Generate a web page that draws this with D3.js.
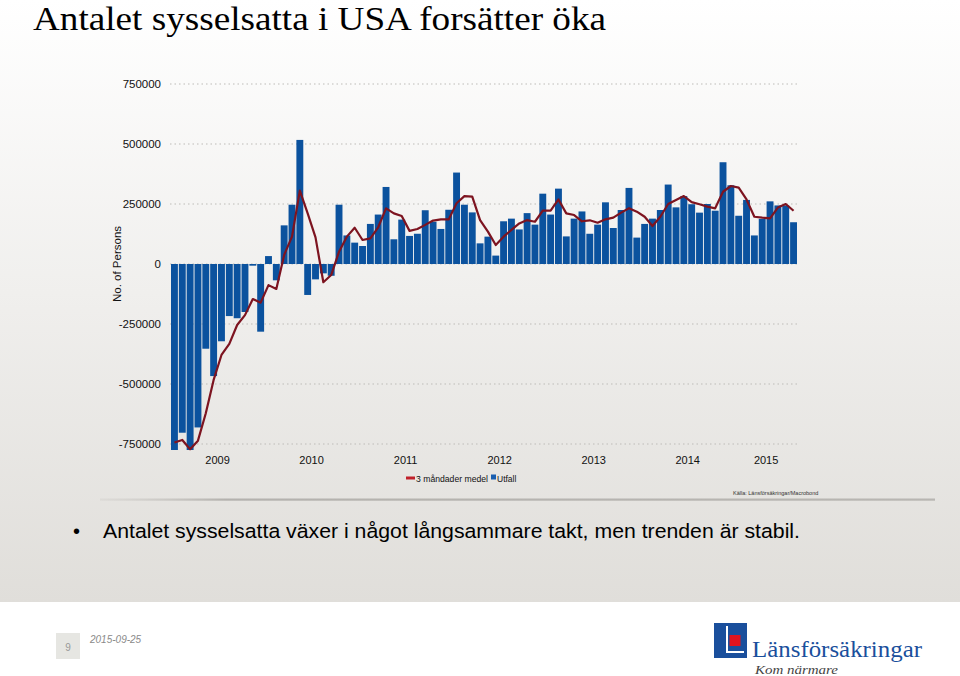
<!DOCTYPE html>
<html>
<head>
<meta charset="utf-8">
<script src="https://cdn.jsdelivr.net/npm/d3@7"></script>
<style>
  html, body { margin: 0; padding: 0; background: #fff; }
  svg { display: block; }
</style>
</head>
<body>
<svg id="chart" width="960" height="676"></svg>
<script>
/* ---- data: monthly change in US nonfarm employment, Jan 2009 – Aug 2015 ---- */
const months = d3.timeMonth.range(new Date(2009, 0, 1), new Date(2015, 8, 1));

const utfall = [
  -775000, -703000, -775000, -681000, -353000, -467000, -322000, -217000, -226000, -200000, -7000, -282000,
  33000, -68000, 161000, 247000, 517000, -129000, -64000, -39000, -49000, 247000, 119000, 89000,
  75000, 167000, 206000, 321000, 103000, 185000, 117000, 126000, 224000, 176000, 146000, 226000,
  381000, 247000, 215000, 86000, 114000, 35000, 178000, 189000, 144000, 212000, 164000, 293000,
  206000, 314000, 115000, 189000, 219000, 126000, 164000, 257000, 150000, 225000, 317000, 110000,
  167000, 189000, 225000, 331000, 236000, 283000, 249000, 214000, 250000, 222000, 424000, 328000,
  201000, 267000, 119000, 188000, 261000, 244000, 244000, 174000
];

const medel3 = [
  -744000, -733000, -772000, -736000, -622000, -483000, -379000, -333000, -254000, -213000, -146000, -161000,
  -88000, -104000, 38000, 114000, 306000, 211000, 111000, -76000, -46000, 51000, 114000, 151000,
  100000, 107000, 153000, 232000, 211000, 200000, 138000, 146000, 163000, 181000, 186000, 186000,
  253000, 283000, 281000, 183000, 135000, 79000, 114000, 142000, 169000, 183000, 176000, 222000,
  222000, 269000, 211000, 204000, 178000, 182000, 172000, 186000, 193000, 214000, 232000, 218000,
  197000, 158000, 197000, 250000, 267000, 283000, 258000, 249000, 239000, 232000, 301000, 325000,
  318000, 269000, 197000, 193000, 190000, 235000, 250000, 222000
];

const years = [2009, 2010, 2011, 2012, 2013, 2014, 2015];
const yTicks = [750000, 500000, 250000, 0, -250000, -500000, -750000];

const BLUE = "#0b529e";
const RED = "#7d1420";
const FONT = "'Liberation Sans', Arial, sans-serif";
const SERIF = "'Liberation Serif', 'Times New Roman', serif";

const svg = d3.select("#chart");

/* ---- background ---- */
const defs = svg.append("defs");
const bg = defs.append("linearGradient").attr("id", "bg").attr("x1", 0).attr("y1", 0).attr("x2", 0).attr("y2", 1);
bg.append("stop").attr("offset", "0%").attr("stop-color", "#ffffff");
bg.append("stop").attr("offset", "100%").attr("stop-color", "#e0deda");
svg.append("rect").attr("x", 0).attr("y", 0).attr("width", 960).attr("height", 602).attr("fill", "url(#bg)");

const sep = defs.append("linearGradient").attr("id", "sep").attr("x1", 0).attr("y1", 0).attr("x2", 1).attr("y2", 0);
sep.append("stop").attr("offset", "0%").attr("stop-color", "#c8c6c2").attr("stop-opacity", 0.3);
sep.append("stop").attr("offset", "15%").attr("stop-color", "#b4b2ae");
sep.append("stop").attr("offset", "100%").attr("stop-color", "#b8b6b2");

/* ---- title ---- */
svg.append("text")
  .attr("x", 33).attr("y", 30)
  .attr("font-family", SERIF).attr("font-size", 33).attr("fill", "#000")
  .attr("textLength", 573).attr("lengthAdjust", "spacingAndGlyphs")
  .text("Antalet sysselsatta i USA forsätter öka");

/* ---- scales ---- */
const x = d3.scaleBand().domain(months).range([171, 797]).paddingInner(0.12).paddingOuter(0.0);
const y = d3.scaleLinear().domain([-750000, 750000]).range([444, 84]);

/* ---- grid + y labels ---- */
const grid = svg.append("g");
grid.selectAll("line").data(yTicks).enter().append("line")
  .attr("x1", 170).attr("x2", 800)
  .attr("y1", d => y(d)).attr("y2", d => y(d))
  .attr("stroke", "#bdbbb8").attr("stroke-width", 1.2)
  .attr("stroke-dasharray", "1.5,3");

svg.append("g").selectAll("text").data(yTicks).enter().append("text")
  .attr("x", 161).attr("y", d => y(d) + 4)
  .attr("text-anchor", "end")
  .attr("font-family", FONT).attr("font-size", 11.5).attr("fill", "#111")
  .text(d => String(d));

svg.append("text")
  .attr("transform", `translate(121,${y(0)}) rotate(-90)`)
  .attr("text-anchor", "middle")
  .attr("font-family", FONT).attr("font-size", 11.5).attr("fill", "#111")
  .text("No. of Persons");

/* ---- bars ---- */
svg.append("g").selectAll("rect").data(utfall).enter().append("rect")
  .attr("x", (d, i) => x(months[i]))
  .attr("width", x.bandwidth())
  .attr("y", d => Math.min(y(d), y(0)))
  .attr("height", d => Math.abs(y(d) - y(0)))
  .attr("fill", BLUE);

/* ---- 3-month average line ---- */
const line = d3.line()
  .x((d, i) => x(months[i]) + x.bandwidth() / 2)
  .y(d => y(d));

svg.append("path").datum(medel3)
  .attr("d", line)
  .attr("fill", "none")
  .attr("stroke", RED)
  .attr("stroke-width", 2.2)
  .attr("stroke-linejoin", "round");

/* ---- x year labels, centred on each year's bars ---- */
svg.append("g").selectAll("text").data(years).enter().append("text")
  .attr("x", yr => {
    const ms = months.filter(m => m.getFullYear() === yr);
    return (x(ms[0]) + x(ms[ms.length - 1]) + x.bandwidth()) / 2;
  })
  .attr("y", 464)
  .attr("text-anchor", "middle")
  .attr("font-family", FONT).attr("font-size", 11).attr("fill", "#111")
  .text(d => d);

/* ---- legend ---- */
const leg = svg.append("g").attr("font-family", FONT).attr("font-size", 8.5).attr("fill", "#111");
leg.append("rect").attr("x", 406).attr("y", 476.5).attr("width", 9).attr("height", 3).attr("fill", "#c0202a");
leg.append("text").attr("x", 416).attr("y", 481.5)
  .attr("textLength", 72).attr("lengthAdjust", "spacingAndGlyphs")
  .text("3 måndader medel");
leg.append("rect").attr("x", 491).attr("y", 474.5).attr("width", 5).attr("height", 5).attr("fill", "#1a5fb0");
leg.append("text").attr("x", 497).attr("y", 481.5).text("Utfall");

svg.append("text")
  .attr("x", 733).attr("y", 495)
  .attr("font-family", FONT).attr("font-size", 5.5).attr("fill", "#333")
  .text("Källa: Länsförsäkringar/Macrobond");

/* ---- separator ---- */
svg.append("rect").attr("x", 100).attr("y", 498.5).attr("width", 835).attr("height", 2.2).attr("fill", "url(#sep)");

/* ---- bullet text ---- */
svg.append("text").attr("x", 73).attr("y", 538)
  .attr("font-family", FONT).attr("font-size", 20).attr("fill", "#000").text("•");
svg.append("text").attr("x", 103).attr("y", 538)
  .attr("font-family", FONT).attr("font-size", 20.5).attr("fill", "#000")
  .attr("textLength", 697).attr("lengthAdjust", "spacingAndGlyphs")
  .text("Antalet sysselsatta växer i något långsammare takt, men trenden är stabil.");

/* ---- footer ---- */
svg.append("rect").attr("x", 56).attr("y", 633).attr("width", 24).attr("height", 26).attr("fill", "#e6e6e2");
svg.append("text").attr("x", 68).attr("y", 651).attr("text-anchor", "middle")
  .attr("font-family", FONT).attr("font-size", 10).attr("fill", "#999").text("9");
svg.append("text").attr("x", 90).attr("y", 643)
  .attr("font-family", FONT).attr("font-size", 10).attr("font-style", "italic").attr("fill", "#8a8a8a")
  .text("2015-09-25");

const logo = svg.append("g");
logo.append("rect").attr("x", 714).attr("y", 623).attr("width", 33).attr("height", 35).attr("fill", "#1a4f9c");
logo.append("path").attr("d", "M727,626 L727,652 L744,652").attr("fill", "none").attr("stroke", "#fff").attr("stroke-width", 2);
logo.append("rect").attr("x", 729.5).attr("y", 635).attr("width", 11).attr("height", 11).attr("fill", "#e0141e");
logo.append("text").attr("x", 752).attr("y", 657)
  .attr("font-family", SERIF).attr("font-size", 23).attr("fill", "#1a4f9c")
  .attr("textLength", 170).attr("lengthAdjust", "spacingAndGlyphs")
  .text("Länsförsäkringar");
logo.append("text").attr("x", 755).attr("y", 674)
  .attr("font-family", SERIF).attr("font-size", 13).attr("font-style", "italic").attr("fill", "#444")
  .attr("textLength", 83).attr("lengthAdjust", "spacingAndGlyphs")
  .text("Kom närmare");
</script>
</body>
</html>
